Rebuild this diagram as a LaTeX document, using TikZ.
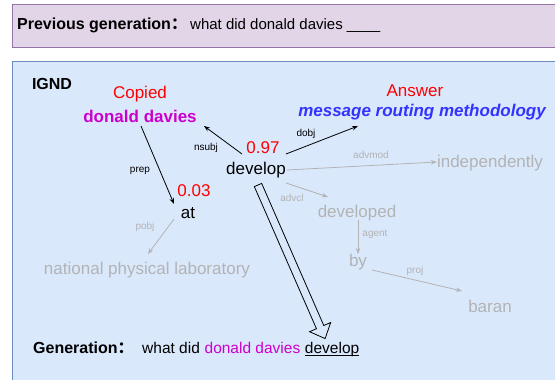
\documentclass[tikz,border=0pt]{standalone}
\usepackage{fontspec}
\setmainfont{Liberation Sans}
\newfontfamily\cjkfont{Noto Sans CJK SC}
\usetikzlibrary{arrows.meta,calc}
\definecolor{purfill}{HTML}{E1D5E7}
\definecolor{purline}{HTML}{9673A6}
\definecolor{bluefill}{HTML}{DAE8FC}
\definecolor{blueline}{HTML}{6C8EBF}
\definecolor{mred}{HTML}{FF0000}
\definecolor{mmag}{HTML}{CC00CC}
\definecolor{mblue}{HTML}{3333FF}
\definecolor{mgray}{HTML}{B3B3B3}
\newcommand{\fsz}[1]{\fontsize{#1}{#1}\selectfont}
\begin{document}
\begin{tikzpicture}[x=1pt,y=-1pt,
  word/.style={inner sep=0pt, font=\fsz{17}},
  grayword/.style={word, text=mgray},
  redword/.style={word, text=mred},
  lab/.style={inner sep=0pt, font=\fsz{10}},
  graylab/.style={lab, text=mgray},
  dep/.style={line width=0.8pt, -{Stealth[length=6pt,width=4.5pt]}},
  graydep/.style={dep, color=mgray},
  gentxt/.style={inner sep=0pt, anchor=base west, font=\fsz{15.5}},
  boxline/.style={line width=1pt}]
\useasboundingbox (0,0) rectangle (555,380);
\clip (0,0) rectangle (555,380);
\draw[boxline, fill=purfill, draw=purline] (12,4.5) rectangle (565,47.5);
\draw[boxline, fill=bluefill, draw=blueline] (12,61.5) rectangle (565,390);

% top line
\node[inner sep=0pt, anchor=base west, font=\fsz{16}\bfseries] (prevlab) at (17,30) {Previous generation{\cjkfont ：}};
\node[inner sep=0pt, anchor=base west, font=\fsz{15}] (prevtxt) at (190,30) {what did donald davies \_\_\_\_};

% graph
\node[word, font=\fsz{16}\bfseries] (ignd) at (52,84) {IGND};
\node[redword] (copied) at (140,94) {Copied};
\node[word, font=\fsz{17}\bfseries, text=mmag] (dd) at (140,116) {donald davies};
\node[redword] (answer) at (415,91) {Answer};
\node[word, font=\fsz{17}\bfseries\itshape, text=mblue] (msg) at (422,112) {message routing methodology};
\node[redword] (p97) at (263,148) {0.97};
\node[word] (dev) at (256,170) {develop};
\node[redword] (p03) at (194,191) {0.03};
\node[word] (at) at (188,213) {at};
\node[grayword] (npl) at (147,270) {national physical laboratory};
\node[grayword] (indep) at (490,163) {independently};
\node[grayword] (devd) at (357,213) {developed};
\node[grayword] (by) at (358,262) {by};
\node[grayword] (baran) at (490,306) {baran};

% edge labels
\node[lab] (lnsubj) at (206,148) {nsubj};
\node[lab] (ldobj) at (306,134) {dobj};
\node[lab] (lprep) at (140,171) {prep};
\node[graylab] (ladvmod) at (371,155) {advmod};
\node[graylab] (ladvcl) at (292,198) {advcl};
\node[graylab] (lpobj) at (145,227) {pobj};
\node[graylab] (lagent) at (375,234) {agent};
\node[graylab] (lproj) at (415,271) {proj};

% edges
\draw[dep] ([shift={(-14,-16)}]dev.center) -- ([shift={(64,10)}]dd.center);
\draw[dep] ([shift={(30,-16)}]dev.center) -- ([shift={(-64,14)}]msg.center);
\draw[dep] ([shift={(1,10)}]dd.center) -- ([shift={(-14,-9)}]at.center);
\draw[graydep] ([shift={(31,0)}]dev.center) -- ([shift={(0,-1)}]indep.west);
\draw[graydep] ([shift={(30,13)}]dev.center) -- ([shift={(-29,-16)}]devd.center);
\draw[graydep] ([shift={(-14,6)}]at.center) -- ([shift={(1,-16)}]npl.center);
\draw[graydep] ([shift={(1,7)}]devd.center) -- ([shift={(0,-8)}]by.center);
\draw[graydep] ([shift={(14,8)}]by.center) -- ([shift={(-28,-15)}]baran.center);

% generation line
\node[inner sep=0pt, anchor=base west, font=\fsz{16}\bfseries] (genlab) at (33,353) {Generation{\cjkfont ：}};
\node[gentxt] (g1) at (142,353) {what did};
\node[gentxt, text=mmag] (g2) at ([shift={(4.3,0)}]g1.base east) {donald davies};
\node[gentxt] (gdev) at ([shift={(4.3,0)}]g2.base east) {develop};
\draw[line width=0.8pt] ([shift={(0,2.2)}]gdev.base west) -- ([shift={(0,2.2)}]gdev.base east);

% big hollow arrow
\coordinate (s) at ([shift={(2,15)}]dev.center);
\coordinate (t) at ([shift={(-7,-3)}]gdev.north);
\coordinate (h) at ($(t)!12.5pt!(s)$);
\draw[line width=0.8pt, fill=bluefill, line join=miter]
  ($(s)!4pt!90:(t)$) -- ($(h)!4pt!90:(t)$) -- ($(h)!11.5pt!90:(t)$) -- (t)
  -- ($(h)!11.5pt!-90:(t)$) -- ($(h)!4pt!-90:(t)$) -- ($(s)!4pt!-90:(t)$) -- cycle;
\end{tikzpicture}
\end{document}
